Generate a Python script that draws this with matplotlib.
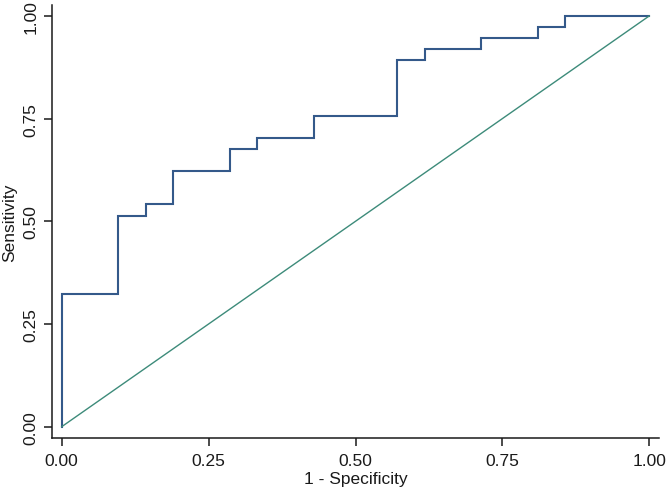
import matplotlib
matplotlib.use("Agg")
import matplotlib.pyplot as plt

# ROC curve corner points (1 - specificity, sensitivity)
fpr = [0.0, 0.0, 0.095, 0.143, 0.190, 0.286, 0.333, 0.429, 0.571, 0.619, 0.714, 0.810, 0.857, 1.0]
tpr = [0.0, 0.324, 0.514, 0.541, 0.622, 0.676, 0.703, 0.757, 0.892, 0.919, 0.946, 0.973, 1.0, 1.0]
ref_x = [0.0, 1.0]
ref_y = [0.0, 1.0]
ticks = [0.0, 0.25, 0.5, 0.75, 1.0]
tick_labels = ["0.00", "0.25", "0.50", "0.75", "1.00"]

plt.rcParams['font.family'] = ['Liberation Sans', 'DejaVu Sans']

fig = plt.figure(figsize=(6.66, 4.89), dpi=100)
ax = fig.add_axes([52/666, (489-439)/489, (659-52)/666, (439-6)/489])

ax.step(fpr, tpr, where='post', color='#34598a', lw=1.5, solid_joinstyle='miter')
ax.plot(ref_x, ref_y, color='#3d8b7a', lw=1.0)

ax.set_xlim(-0.0165, 1.0165)
ax.set_ylim(-0.0275, 1.0265)
ax.set_xticks(ticks)
ax.set_xticklabels(tick_labels)
ax.set_yticks(ticks)
ax.set_yticklabels(tick_labels, rotation=90, va='center')

for s in ['top', 'right']:
    ax.spines[s].set_visible(False)
for s in ['left', 'bottom']:
    ax.spines[s].set_linewidth(1.1)
    ax.spines[s].set_color('#1a1a1a')

ax.tick_params(axis='both', direction='out', length=5.5, width=1.1, color='#1a1a1a',
               labelsize=12.5, labelcolor='#1a1a1a')
ax.tick_params(axis='x', pad=5.5)
ax.tick_params(axis='y', pad=4)

ax.set_xlabel("1 - Specificity", fontsize=12.5, color='#1a1a1a')
ax.set_ylabel("Sensitivity", fontsize=12.5, color='#1a1a1a')
ax.xaxis.set_label_coords(0.5, -0.076)
ax.yaxis.set_label_coords(-0.057, 0.5)

fig.savefig("out.png", dpi=100)
